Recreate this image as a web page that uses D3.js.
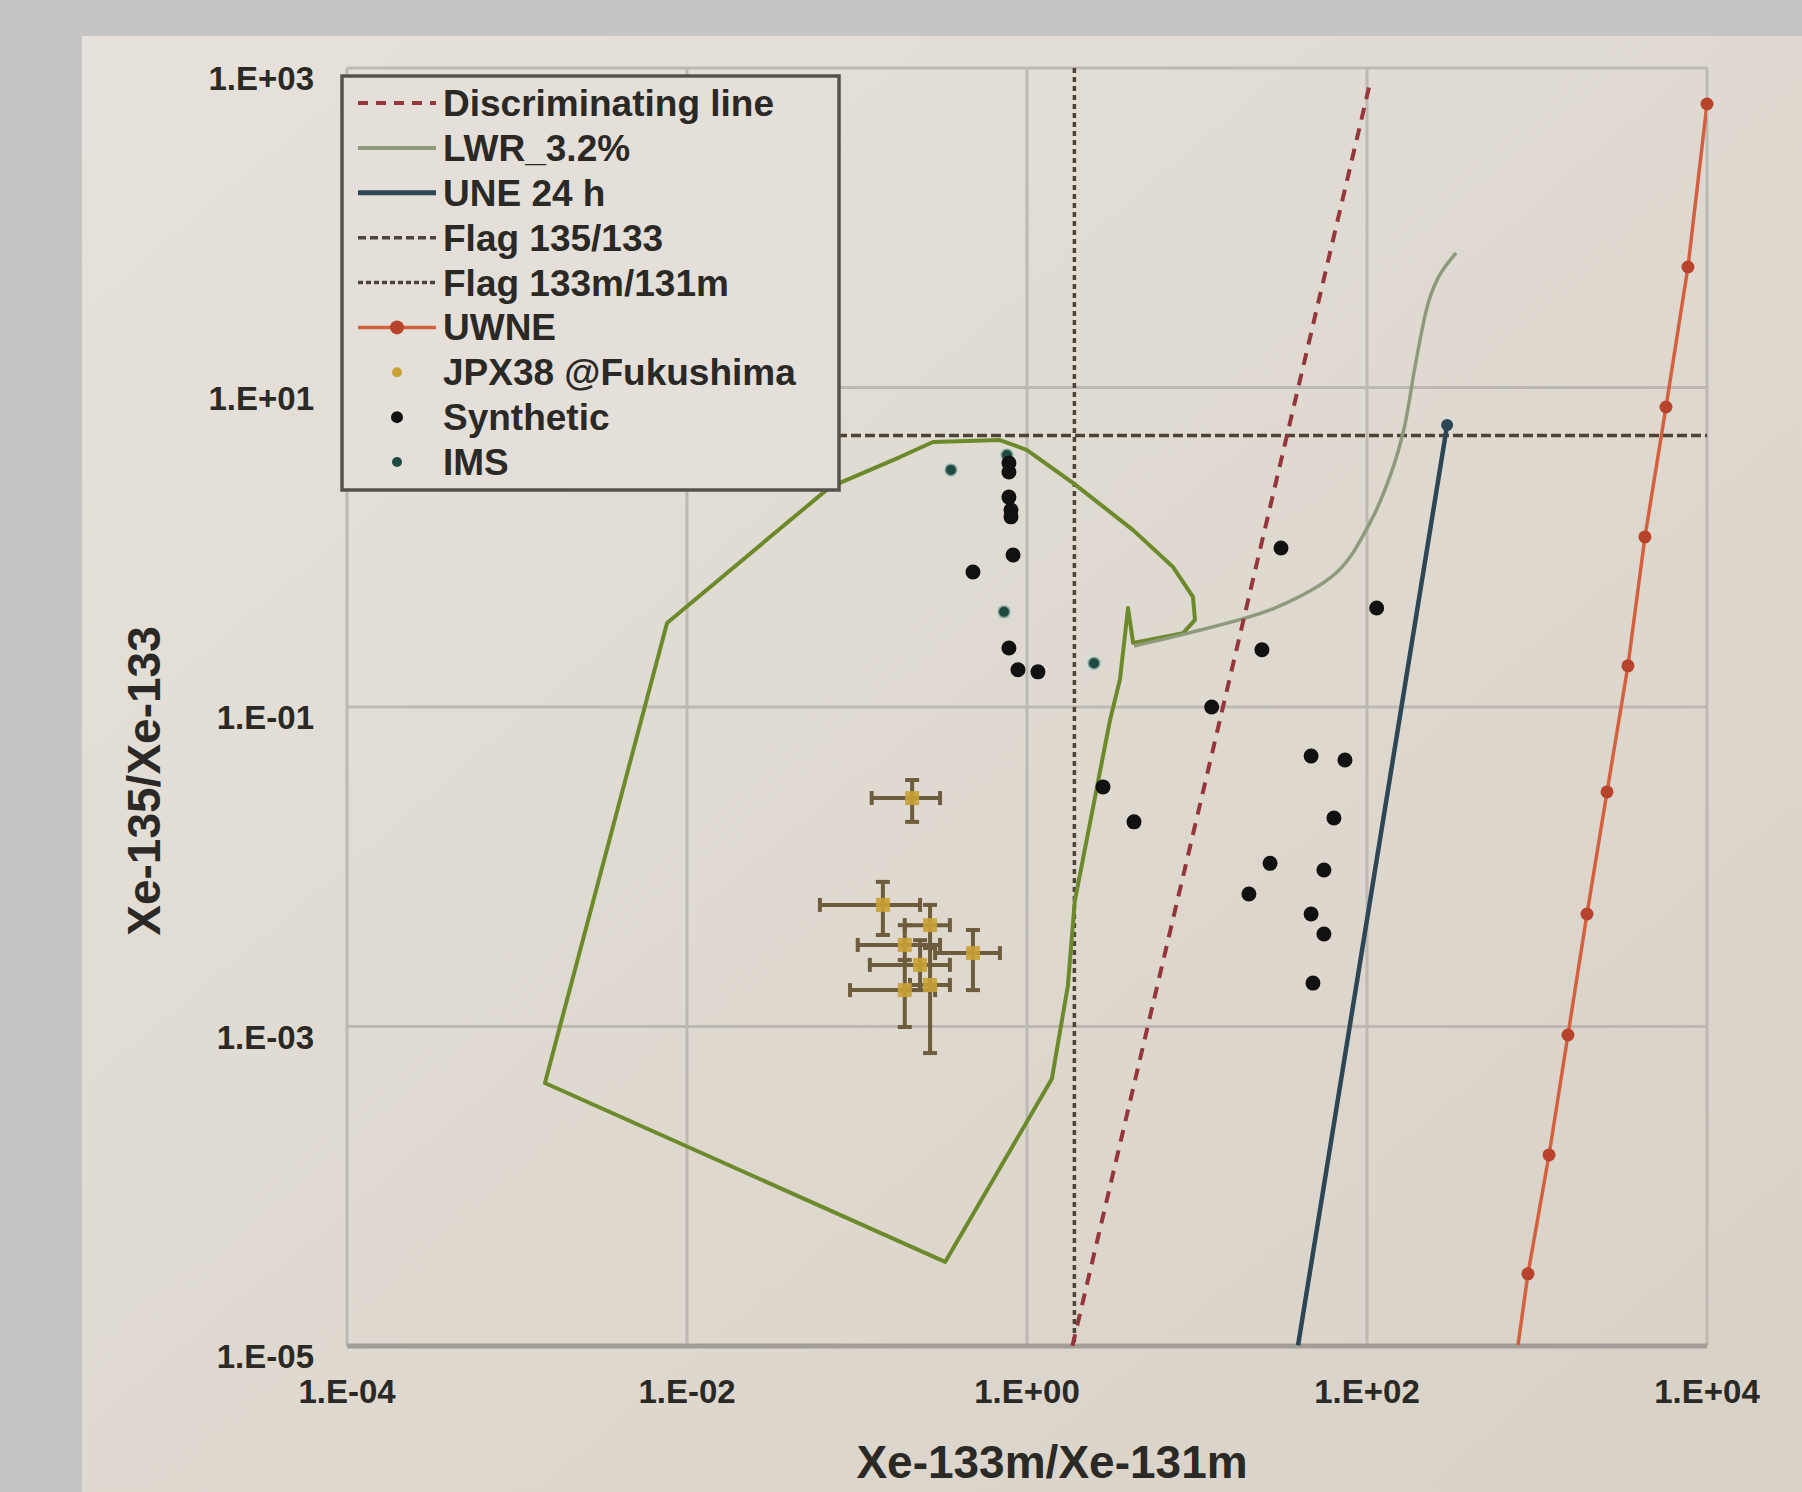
<!DOCTYPE html>
<html>
<head>
<meta charset="utf-8">
<script src="https://cdn.jsdelivr.net/npm/d3@7"></script>
<style>
  html, body { margin: 0; padding: 0; background: #c5c6c3; }
  svg { display: block; font-family: "Liberation Sans", Arial, sans-serif; }
</style>
</head>
<body>
<svg id="SVG_CONTAINER" width="1802" height="1492"></svg>
<script>
// ---- data ----
const xTicks = [1e-4, 1e-2, 1, 1e2, 1e4];
const xTickLabels = ["1.E-04", "1.E-02", "1.E+00", "1.E+02", "1.E+04"];
const yTicks = [1e3, 1e1, 1e-1, 1e-3, 1e-5];
const yTickLabels = ["1.E+03", "1.E+01", "1.E-01", "1.E-03", "1.E-05"];

const legendLabels = ["Discriminating line", "LWR_3.2%", "UNE 24 h", "Flag 135/133",
    "Flag 133m/131m", "UWNE", "JPX38 @Fukushima", "Synthetic", "IMS"];

// discriminating line end points
const discrimX = [1.85, 104];
const discrimY = [1e-5, 800];

// flags
const flag135 = 5;      // Xe-135/Xe-133
const flag133m = 1.9;   // Xe-133m/Xe-131m

// LWR 3.2% curve
const lwrX = [4.26, 9.35, 28.8, 66.7, 104, 138, 165, 194, 232, 272, 334];
const lwrY = [0.241, 0.294, 0.417, 0.70, 1.42, 2.87, 5.5, 14.5, 35.3, 52.1, 69.5];

// UNE 24 h (straight in log-log)
const uneX = [39.3, 296];
const uneY = [1.01e-5, 5.82];

// UWNE (markers) and the unmarked tail down to the axis
const uwneX = [885, 1177, 1521, 1968, 2581, 3428, 4315, 5737, 7727, 10000];
const uwneY = [2.83e-5, 1.57e-4, 8.85e-4, 5.06e-3, 0.0294, 0.181, 1.16, 7.55, 56.8, 595];
const uwneTailX = 773;
const uwneTailY = 1.01e-5;

// green domain outline
const domainX = [1.46e-3, 7.63e-3, 0.0693, 0.179, 0.280, 0.693, 1.0, 1.87, 4.21, 7.23, 9.47,
    9.73, 8.28, 4.21, 3.93, 3.52, 3.08, 1.91, 1.74, 1.40, 0.330];
const domainY = [4.43e-4, 0.336, 2.38, 3.67, 4.56, 4.69, 4.06, 2.52, 1.28, 0.752, 0.489,
    0.351, 0.290, 0.252, 0.417, 0.148, 0.083, 6.1e-3, 1.8e-3, 4.7e-4, 3.36e-5];

// Synthetic points
const synthX = [0.783, 0.783, 0.783, 0.805, 0.805, 0.828, 0.481, 0.783, 0.885, 1.16, 2.80, 4.26,
    12.2, 24.1, 31.2, 114, 46.9, 74.2, 63.9, 26.9, 20.2, 55.8, 46.9, 55.8, 48.1];
const synthY = [3.37, 2.96, 2.06, 1.71, 1.55, 0.894, 0.700, 0.234, 0.171, 0.166, 0.0316, 0.0191,
    0.100, 0.228, 0.99, 0.417, 0.0493, 0.0466, 0.0202, 0.0105, 6.75e-3, 9.55e-3, 5.06e-3, 3.79e-3, 1.87e-3];

// IMS points
const imsX = [0.357, 0.762, 0.733, 2.48];
const imsY = [3.05, 3.78, 0.394, 0.188];

// JPX38 @Fukushima with error bars
const jpxX   = [0.211, 0.142, 0.269, 0.481, 0.191, 0.235, 0.191, 0.269];
const jpxXLo = [0.122, 0.0605, 0.191, 0.288, 0.101, 0.119, 0.091, 0.205];
const jpxXHi = [0.308, 0.235, 0.352, 0.693, 0.308, 0.352, 0.288, 0.352];
const jpxY   = [0.0269, 5.77e-3, 4.31e-3, 2.88e-3, 3.24e-3, 2.43e-3, 1.69e-3, 1.82e-3];
const jpxYLo = [0.0191, 3.74e-3, 3.10e-3, 1.69e-3, 2.43e-3, 1.69e-3, 9.93e-4, 6.82e-4];
const jpxYHi = [0.0349, 8.04e-3, 5.77e-3, 4.02e-3, 4.31e-3, 3.47e-3, 2.61e-3, 3.24e-3];

// ---- layout ----
const PLOT = { LEFT: 347, RIGHT: 1707, TOP: 68, BOTTOM: 1346 };

const COLORS = {
    discrim: "#94363a",
    lwr: "#8e9a7c",
    une: "#2d4656",
    flag: "#4d4438",
    uwne: "#d3603f",
    uwneMark: "#b8432c",
    domain: "#6c8a2c",
    synth: "#111111",
    ims: "#1f4a42",
    jpx: "#c9a134",
    jpxBar: "#6e5d3c",
    text: "#2b2926"
};

let svg = d3.select("#SVG_CONTAINER");

// background panel
let defs = svg.append("defs");
let grad = defs.append("linearGradient")
    .attr("id", "panelGrad")
    .attr("x1", "0%").attr("y1", "0%").attr("x2", "100%").attr("y2", "100%");
grad.append("stop").attr("offset", "0%").attr("stop-color", "#e6e2db");
grad.append("stop").attr("offset", "100%").attr("stop-color", "#d8d1c6");

svg.append("rect").attr("width", 1802).attr("height", 1492).attr("fill", "#c5c6c3");
svg.append("rect")
    .attr("x", 82).attr("y", 36)
    .attr("width", 1802 - 82).attr("height", 1492 - 36)
    .attr("fill", "url(#panelGrad)");

defs.append("clipPath").attr("id", "plotClip")
    .append("rect")
    .attr("x", PLOT.LEFT).attr("y", PLOT.TOP)
    .attr("width", PLOT.RIGHT - PLOT.LEFT).attr("height", PLOT.BOTTOM - PLOT.TOP);

//** SCALES *****************************************
let xScale = d3.scaleLog().domain([1e-4, 1e4]).range([PLOT.LEFT, PLOT.RIGHT]);
let yScale = d3.scaleLog().domain([1e-5, 1e3]).range([PLOT.BOTTOM, PLOT.TOP]);

//** GRID *****************************************
let grid = svg.append("g");
grid.selectAll(".vgrid")
    .data(xTicks)
    .enter().append("line")
    .attr("x1", d => xScale(d)).attr("x2", d => xScale(d))
    .attr("y1", PLOT.TOP).attr("y2", PLOT.BOTTOM)
    .attr("stroke", "#bdb9b2").attr("stroke-width", 3);
grid.selectAll(".hgrid")
    .data(yTicks)
    .enter().append("line")
    .attr("x1", PLOT.LEFT).attr("x2", PLOT.RIGHT)
    .attr("y1", d => yScale(d)).attr("y2", d => yScale(d))
    .attr("stroke", "#bdb9b2").attr("stroke-width", 3);

// bottom axis line
svg.append("line")
    .attr("x1", PLOT.LEFT).attr("x2", PLOT.RIGHT)
    .attr("y1", PLOT.BOTTOM).attr("y2", PLOT.BOTTOM)
    .attr("stroke", "#a29e97").attr("stroke-width", 5);

//** TICK LABELS *****************************************
svg.append("g").selectAll("text")
    .data(xTicks)
    .enter().append("text")
    .attr("x", d => xScale(d))
    .attr("y", PLOT.BOTTOM + 57)
    .attr("text-anchor", "middle")
    .attr("font-size", 33).attr("font-weight", "bold")
    .attr("fill", COLORS.text)
    .text((d, i) => xTickLabels[i]);

svg.append("g").selectAll("text")
    .data(yTicks)
    .enter().append("text")
    .attr("x", 314)
    .attr("y", d => yScale(d) + 22)
    .attr("text-anchor", "end")
    .attr("font-size", 33).attr("font-weight", "bold")
    .attr("fill", COLORS.text)
    .text((d, i) => yTickLabels[i]);

// axis titles
svg.append("text")
    .attr("x", 1052).attr("y", 1478)
    .attr("text-anchor", "middle")
    .attr("font-size", 46).attr("font-weight", "bold")
    .attr("fill", COLORS.text)
    .text("Xe-133m/Xe-131m");

svg.append("text")
    .attr("transform", "translate(160,781) rotate(-90)")
    .attr("text-anchor", "middle")
    .attr("font-size", 46).attr("font-weight", "bold")
    .attr("fill", COLORS.text)
    .text("Xe-135/Xe-133");

//** SERIES *****************************************
let plot = svg.append("g").attr("clip-path", "url(#plotClip)");
let line = d3.line().x(d => xScale(d[0])).y(d => yScale(d[1]));

// flags
plot.append("line")
    .attr("x1", PLOT.LEFT).attr("x2", PLOT.RIGHT)
    .attr("y1", yScale(flag135)).attr("y2", yScale(flag135))
    .attr("stroke", COLORS.flag).attr("stroke-width", 3.5)
    .attr("stroke-dasharray", "10,4");
plot.append("line")
    .attr("x1", xScale(flag133m)).attr("x2", xScale(flag133m))
    .attr("y1", PLOT.TOP).attr("y2", PLOT.BOTTOM)
    .attr("stroke", COLORS.flag).attr("stroke-width", 3.5)
    .attr("stroke-dasharray", "5,4");

// green domain outline
let domainPts = domainX.map((x, i) => [x, domainY[i]]);
plot.append("path")
    .attr("d", line(domainPts) + "Z")
    .attr("fill", "none")
    .attr("stroke", COLORS.domain).attr("stroke-width", 4)
    .attr("stroke-linejoin", "round");

// LWR curve
plot.append("path")
    .attr("d", d3.line().curve(d3.curveCatmullRom.alpha(0.5))
        .x(d => xScale(d[0])).y(d => yScale(d[1]))(lwrX.map((x, i) => [x, lwrY[i]])))
    .attr("fill", "none")
    .attr("stroke", COLORS.lwr).attr("stroke-width", 3.5);

// discriminating line
plot.append("path")
    .attr("d", line(discrimX.map((x, i) => [x, discrimY[i]])))
    .attr("fill", "none")
    .attr("stroke", COLORS.discrim).attr("stroke-width", 4)
    .attr("stroke-dasharray", "12,9");

// UNE 24 h
let unePts = uneX.map((x, i) => [x, uneY[i]]);
plot.append("path")
    .attr("d", line(unePts))
    .attr("fill", "none")
    .attr("stroke", COLORS.une).attr("stroke-width", 4.5);
svg.append("circle")
    .attr("cx", xScale(uneX[uneX.length - 1]))
    .attr("cy", yScale(uneY[uneY.length - 1]))
    .attr("r", 6).attr("fill", COLORS.une);

// UWNE
let uwnePts = [[uwneTailX, uwneTailY]].concat(uwneX.map((x, i) => [x, uwneY[i]]));
plot.append("path")
    .attr("d", line(uwnePts))
    .attr("fill", "none")
    .attr("stroke", COLORS.uwne).attr("stroke-width", 3.5);
svg.append("g").selectAll("circle")
    .data(uwneX)
    .enter().append("circle")
    .attr("cx", d => xScale(d))
    .attr("cy", (d, i) => yScale(uwneY[i]))
    .attr("r", 6.5)
    .attr("fill", COLORS.uwneMark);

// JPX38 error bars and markers
let jpx = svg.append("g");
jpxX.forEach(function (x, i) {
    let cx = xScale(x), cy = yScale(jpxY[i]);
    let x0 = xScale(jpxXLo[i]), x1 = xScale(jpxXHi[i]);
    let y0 = yScale(jpxYLo[i]), y1 = yScale(jpxYHi[i]);
    let bars = [
        [x0, cy, x1, cy], [cx, y0, cx, y1],
        [x0, cy - 7, x0, cy + 7], [x1, cy - 7, x1, cy + 7],
        [cx - 7, y0, cx + 7, y0], [cx - 7, y1, cx + 7, y1]
    ];
    jpx.selectAll(null)
        .data(bars)
        .enter().append("line")
        .attr("x1", d => d[0]).attr("y1", d => d[1])
        .attr("x2", d => d[2]).attr("y2", d => d[3])
        .attr("stroke", COLORS.jpxBar).attr("stroke-width", 4);
});
jpx.selectAll("rect")
    .data(jpxX)
    .enter().append("rect")
    .attr("x", d => xScale(d) - 7)
    .attr("y", (d, i) => yScale(jpxY[i]) - 7)
    .attr("width", 14).attr("height", 14)
    .attr("fill", COLORS.jpx).attr("opacity", 0.9);

// IMS
svg.append("g").selectAll("circle")
    .data(imsX)
    .enter().append("circle")
    .attr("cx", d => xScale(d))
    .attr("cy", (d, i) => yScale(imsY[i]))
    .attr("r", 6.5)
    .attr("fill", COLORS.ims)
    .attr("stroke", "#cfe0d6").attr("stroke-width", 3).attr("stroke-opacity", 0.6);

// Synthetic
svg.append("g").selectAll("circle")
    .data(synthX)
    .enter().append("circle")
    .attr("cx", d => xScale(d))
    .attr("cy", (d, i) => yScale(synthY[i]))
    .attr("r", 7.5)
    .attr("fill", COLORS.synth);

//** LEGEND *****************************************
let legend = svg.append("g");
legend.append("rect")
    .attr("x", 342).attr("y", 76)
    .attr("width", 497).attr("height", 414)
    .attr("fill", "#e4e0d9")
    .attr("stroke", "#55524d").attr("stroke-width", 3.5);

let legendStyles = [
    { type: "line", color: COLORS.discrim, dash: "10,8", width: 4 },
    { type: "line", color: COLORS.lwr, dash: null, width: 4 },
    { type: "line", color: COLORS.une, dash: null, width: 5 },
    { type: "line", color: COLORS.flag, dash: "8,4", width: 3.5 },
    { type: "line", color: COLORS.flag, dash: "5,3", width: 3.5 },
    { type: "marker", color: COLORS.uwne, mark: COLORS.uwneMark, width: 3.5 },
    { type: "dot", color: COLORS.jpx, r: 5 },
    { type: "dot", color: COLORS.synth, r: 6 },
    { type: "dot", color: COLORS.ims, r: 5 }
];

let legendY = d3.scaleLinear().domain([0, legendLabels.length - 1]).range([103, 462]);

legendLabels.forEach(function (label, i) {
    let y = legendY(i);
    let s = legendStyles[i];
    if (s.type === "line" || s.type === "marker") {
        legend.append("line")
            .attr("x1", 358).attr("x2", 436)
            .attr("y1", y).attr("y2", y)
            .attr("stroke", s.color).attr("stroke-width", s.width)
            .attr("stroke-dasharray", s.dash);
        if (s.type === "marker") {
            legend.append("circle").attr("cx", 397).attr("cy", y).attr("r", 7).attr("fill", s.mark);
        }
    } else {
        legend.append("circle").attr("cx", 397).attr("cy", y).attr("r", s.r).attr("fill", s.color);
    }
    legend.append("text")
        .attr("x", 443).attr("y", y + 13)
        .attr("font-size", 37).attr("font-weight", "bold")
        .attr("fill", COLORS.text)
        .text(label);
});
</script>
</body>
</html>
